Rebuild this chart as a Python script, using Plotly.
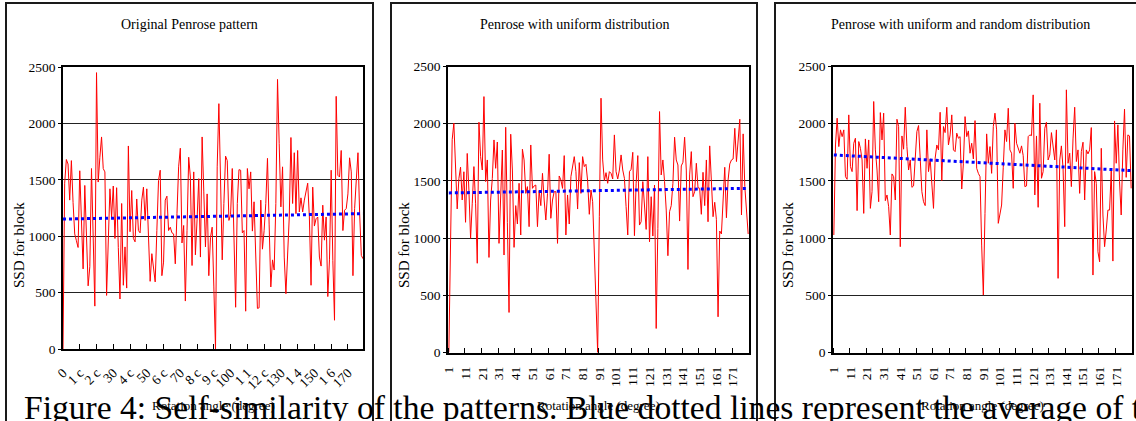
import plotly.graph_objects as go

W, H = 1136, 421

# ---- data -------------------------------------------------------------
titles = [
    "Original Penrose pattern",
    "Penrose with uniform distribution",
    "Penrose with uniform and random distribution",
]

# rotation angle 0..179 for the original pattern
original_angles = list(range(0, 180))
original_ssd = [
    0, 1470, 1680, 1640, 1320, 1670, 1300, 1020, 960, 900,
    1580, 1200, 710, 1450, 1000, 560, 730, 1600, 1000, 380,
    2450, 1480, 1700, 1880, 1600, 1570, 475, 950, 1420, 1170,
    1445, 980, 1430, 900, 443, 1290, 565, 905, 540, 1800,
    1040, 1405, 980, 950, 1330, 1050, 1030, 1320, 1435, 1140,
    1420, 1000, 600, 845, 720, 595, 1050, 1495, 1585, 650,
    770, 1320, 1355, 1050, 1080, 1030, 1020, 755, 1200, 1615,
    1780, 940, 1095, 425, 1050, 1700, 1525, 740, 1570, 835,
    1150, 1510, 815, 1880, 1400, 905, 1375, 650, 990, 1080,
    550, 0, 1615, 2175, 1500, 790, 1290, 1710, 1670, 1140,
    1190, 1600, 1000, 370, 1290, 1590, 1585, 1030, 1050, 335,
    1600, 1420, 1570, 1045, 1305, 850, 360, 365, 1320, 885,
    1050, 1290, 1690, 1100, 550, 790, 700, 1290, 2390, 1820,
    1260, 1615, 815, 490, 800, 1170, 1875, 1290, 1740, 1200,
    1760, 1215, 1340, 1215, 1320, 1390, 1470, 1170, 565, 1435,
    1090, 1155, 1170, 815, 735, 1275, 965, 1170, 465, 790,
    1585, 785, 255, 2240, 1540, 1525, 1760, 1050, 1230, 1245,
    1375, 1695, 1570, 650, 1245, 1500, 1740, 1200, 830, 800,
]
original_labels = ["0", "1 c", "2 c", "30", "4 c", "50", "6 c", "70", "8 c",
                   "9 c", "100", "1 1", "12 c", "130", "1 4", "150", "1 6", "170"]

# rotation angle 1..180 for the two modified patterns
angles = list(range(1, 181))
uniform_ssd = [
    0, 1000, 1860, 2005, 1595, 1255, 1520, 1620, 1333, 1580,
    1138, 1740, 1420, 998, 1305, 1625, 1305, 780, 2013, 1712,
    1595, 2237, 1494, 1683, 831, 1333, 1520, 1858, 1610, 1840,
    954, 1464, 1770, 852, 1969, 1135, 350, 1908, 1595, 919,
    1284, 1123, 1479, 1027, 1777, 1683, 1391, 1450, 1100, 1814,
    1435, 1456, 1464, 1100, 1415, 1284, 1566, 1333, 1158, 1391,
    1733, 1173, 1333, 1406, 1406, 954, 1543, 1508, 1435, 1721,
    1027, 1377, 1123, 1537, 1610, 1712, 1581, 1254, 1660, 1391,
    1712, 1625, 1645, 1500, 1208, 1420, 1318, 925, 458, 0,
    1187, 2223, 1683, 1502, 1572, 1479, 1581, 1566, 1517, 1902,
    1581, 1517, 1595, 1727, 1595, 1523, 1275, 1027, 1581, 1601,
    1750, 1021, 1479, 1721, 1114, 1143, 1494, 1304, 1076, 1712,
    968, 1362, 1018, 1464, 210, 1085, 2106, 1552, 1683, 1494,
    1245, 846, 1231, 1284, 1479, 1882, 1683, 1639, 1149, 1631,
    1663, 1882, 1595, 726, 1552, 1756, 1362, 1406, 1654, 1441,
    1435, 1208, 1575, 1284, 1683, 1143, 1806, 1500, 1187, 1313,
    1164, 312, 1062, 1036, 1304, 1619, 1178, 1508, 1648, 1683,
    1692, 1960, 1669, 1858, 2039, 1202, 1911, 1450, 1216, 1036,
]
random_ssd = [
    1027, 1814, 2048, 1800, 1946, 1887, 1946, 1537, 1514, 2077,
    1625, 1581, 1829, 1873, 1240, 1844, 1785, 1683, 1216, 1867,
    1610, 1858, 1260, 1406, 2194, 1771, 1595, 1318, 2097, 1858,
    2092, 1327, 1377, 1275, 1027, 1561, 1537, 1333, 2039, 1975,
    925, 1893, 1777, 2144, 1800, 1595, 1683, 1444, 1456, 1669,
    1931, 1984, 1712, 1406, 1318, 1284, 1946, 1581, 1692, 1494,
    1260, 1698, 1814, 1771, 2100, 1502, 1975, 1922, 2144, 1814,
    1902, 2077, 1771, 1756, 1917, 1873, 1887, 1429, 1654, 2062,
    1887, 1937, 1742, 1829, 1692, 2027, 1610, 1566, 1537, 939,
    502, 1216, 1911, 1654, 1800, 1566, 1975, 2092, 1946, 1129,
    1216, 1289, 1619, 1946, 1844, 2135, 1771, 1742, 1435, 2004,
    1829, 1785, 1742, 1806, 1721, 1450, 1456, 1887, 1902, 1896,
    2252, 1377, 1893, 1269, 2179, 1523, 1581, 1960, 2013, 1683,
    1727, 1922, 1771, 1683, 1946, 648, 1683, 1806, 1610, 1100,
    2296, 1654, 1742, 1450, 1867, 2144, 1669, 1771, 1391, 1756,
    1838, 1333, 1771, 1736, 1771, 1966, 677, 1581, 1479, 881,
    793, 1785, 1202, 925, 1071, 1245, 1245, 1587, 799, 2024,
    1654, 1990, 1494, 1202, 1771, 2127, 1531, 1902, 1893, 1435,
]
# average (trend) lines: value at first and last angle
original_trend = [1152, 1200]
uniform_trend = [1395, 1435]
random_trend = [1727, 1590]

y_ticks = [0, 500, 1000, 1500, 2000, 2500]
angle_labels = [str(a) for a in range(1, 172, 10)]

# ---- layout helpers ---------------------------------------------------
FONT = "Liberation Serif"


def px(x):
    return x / W


def py(y):
    return 1 - y / H


panels = [
    # plot box (left, right, top, bottom), outer frame (left, right)
    dict(box=(63, 363, 67, 349), frame=(6, 373)),
    dict(box=(448, 749, 66.5, 352.5), frame=(391, 757)),
    dict(box=(833, 1132, 66.5, 352.5), frame=(775, 1150)),
]

fig = go.Figure()

series = [
    (original_angles, original_ssd, original_trend),
    (angles, uniform_ssd, uniform_trend),
    (angles, random_ssd, random_trend),
]

for i, (xs, ys, trend) in enumerate(series):
    sfx = "" if i == 0 else str(i + 1)
    fig.add_trace(go.Scatter(
        x=xs, y=ys, mode="lines", xaxis="x" + sfx, yaxis="y" + sfx,
        line=dict(color="#ff0000", width=1), showlegend=False,
    ))
    fig.add_trace(go.Scatter(
        x=[xs[0], xs[-1]], y=trend, mode="lines", xaxis="x" + sfx, yaxis="y" + sfx,
        line=dict(color="#0000ff", width=3, dash="dot"), showlegend=False,
    ))

layout = dict(
    width=W, height=H, autosize=False,
    margin=dict(l=0, r=0, t=0, b=0, autoexpand=False),
    paper_bgcolor="white", plot_bgcolor="white",
    font=dict(family=FONT, color="black", size=13),
    shapes=[], annotations=[],
)

for i, p in enumerate(panels):
    sfx = "" if i == 0 else str(i + 1)
    l, r, t, b = p["box"]
    yax = dict(
        domain=[py(b), py(t)], range=[0, 2500], tickvals=y_ticks,
        showgrid=True, gridcolor="#222", gridwidth=1, zeroline=False,
        showline=True, mirror=True, linecolor="black", linewidth=1.6,
        ticks="outside", ticklen=3, tickcolor="black",
        tickfont=dict(family=FONT, size=13.5, color="black"),
        anchor="x" + sfx, fixedrange=True, automargin=False,
    )
    xax = dict(
        domain=[px(l), px(r)], anchor="y" + sfx,
        showgrid=False, zeroline=False,
        showline=True, mirror=True, linecolor="black", linewidth=1.6,
        tickfont=dict(family=FONT, size=13.5, color="black"),
        fixedrange=True, automargin=False,
    )
    if i == 0:
        xax.update(
            range=[0, 179], tickmode="array",
            tickvals=list(range(0, 171, 10)), ticktext=original_labels,
            tickangle=-45, ticks="inside", ticklen=5, tickcolor="black",
            ticklabelstandoff=9,
        )
    else:
        xax.update(
            range=[0.5, 180.5], tickmode="array",
            tickvals=list(range(1, 172, 10)), ticktext=angle_labels,
            tickangle=-90, ticks="", ticklabelstandoff=7,
            minor=dict(tickmode="array",
                       tickvals=[v + 0.5 for v in range(0, 181, 10)],
                       ticks="inside", ticklen=5, tickcolor="black"),
        )
    layout["xaxis" + sfx] = xax
    layout["yaxis" + sfx] = yax

    fl, fr = p["frame"]
    layout["shapes"].append(dict(
        type="rect", xref="paper", yref="paper",
        x0=px(fl), x1=px(fr), y0=py(440), y1=py(3),
        line=dict(color="#1a1a1a", width=2), layer="below",
    ))
    cx = (fl + fr) / 2 if i < 2 else 960
    layout["annotations"].append(dict(
        text=titles[i], xref="paper", yref="paper", x=px(cx), y=py(25),
        xanchor="center", yanchor="middle", showarrow=False,
        font=dict(family=FONT, size=14, color="black"),
    ))
    layout["annotations"].append(dict(
        text="SSD for block", xref="paper", yref="paper",
        x=px(fl + 13), y=py(245), textangle=-90,
        xanchor="center", yanchor="middle", showarrow=False,
        font=dict(family=FONT, size=15, color="black"),
    ))
    layout["annotations"].append(dict(
        text="Rotation angle (degree)", xref="paper", yref="paper",
        x=px((l + r) / 2), y=py(405),
        xanchor="center", yanchor="middle", showarrow=False,
        font=dict(family=FONT, size=13, color="black"),
    ))

layout["annotations"].append(dict(
    text="Figure 4: Self-similarity of the patterns. Blue dotted lines represent the average of the",
    xref="paper", yref="paper", x=px(22), y=py(407),
    xanchor="left", yanchor="middle", showarrow=False,
    font=dict(family=FONT, size=33.6, color="black"),
))

fig.update_layout(**layout)
fig.write_html("out.html")
